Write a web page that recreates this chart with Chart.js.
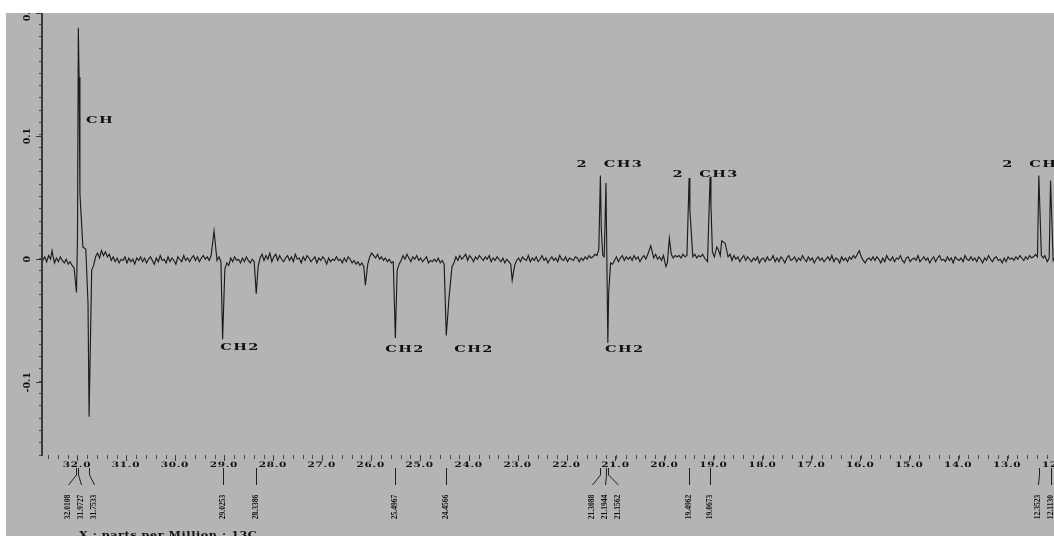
<!DOCTYPE html>
<html>
<head>
<meta charset="utf-8">
<script src="https://cdn.jsdelivr.net/npm/chart.js@4.4.1/dist/chart.umd.min.js"></script>
<style>
  html, body { margin: 0; padding: 0; background: #fff; overflow: hidden; width: 1054px; height: 536px; }
  #wrap { position: absolute; left: 6px; top: 13px; }
  canvas { background: #b4b4b4; display: block; }
</style>
</head>
<body>
<div id="wrap"><canvas id="nmr" width="1100" height="523"></canvas></div>
<script>
// baseline every 0.04 ppm from 32.70 downwards, in units of 0.001
// (one row = 1 ppm)
var baseStart = 32.70;
var baseStep = 0.04;
var baseNoise = [
  -1, 2, -2, 3, 0, 0, -3, 1, -2, 2, -1, -3, 0, -4, -2, -5, -7, 0, 0, 0, 6, 3, 8, 0, 0,
  0, -5, 2, 5, 1, 7, 3, 6, 2, 4, -1, 2, -2, 1, -3, 0, -1, 2, -3, 1, -2, 0, -4, 1, -1,
  2, -2, 1, -3, 0, 2, -1, -4, 1, -2, 3, -1, 0, -3, 2, -2, 1, -1, -4, 2, 0, -2, 3, -1, 1,
  -2, 1, 3, -1, 2, -2, 1, 3, 0, 2, -1, 3, 1, 0, -1, 2, -2, 0, -8, -3, -5, 1, -2, 2, -1,
  0, -3, 1, -2, 2, -1, -3, 0, -2, 0, -6, 1, 4, -1, 3, 0, 5, -2, 2, 4, -1, 3, 0, -2, 1,
  3, -1, 2, -2, 4, 0, 1, -3, 2, -1, 3, 1, -2, 0, 2, -3, 1, -1, 2, 0, -4, 1, -2, 0, -1,
  2, -1, 0, -3, 1, -2, 2, 0, -3, -1, -4, -2, -5, -3, -6, 0, -4, 2, 5, 3, 1, 4, 0, 2, -1,
  1, -2, 0, -3, -2, 0, -9, -4, -1, 3, 0, 4, 1, -2, 2, 0, 3, -1, 1, -2, 0, 2, -3, -1, -2,
  0, -2, 1, -3, -1, -4, 0, 0, 0, -6, -3, 2, -1, 3, 0, 2, 4, -1, 3, 1, -2, 2, 0, 3, 1,
  -1, 2, 0, 3, -2, 1, -1, 2, 0, -2, 1, -3, 0, -2, -4, 0, -5, -1, 1, -2, 2, 0, -1, 3, -2,
  1, -1, 2, -2, 0, 3, -1, 1, -3, 0, 2, -1, 1, -2, 3, 0, -1, 2, -2, 1, 0, -1, 2, 1, -2,
  1, -1, 2, 0, 3, 1, 2, 4, 3, 8, 0, 3, 0, 0, 0, 0, -4, -1, 2, -2, 1, 3, -1, 2, 0,
  2, -1, 3, 0, 2, -2, 1, 3, 0, 4, 0, 3, 1, 4, 0, 2, -1, 3, 0, -3, 0, 4, 1, 3, 2,
  3, 1, 4, 2, 3, 0, 0, 2, 4, 1, 3, 2, 4, 1, 3, 0, 0, 6, 2, 0, 8, 3, 0, 5, 0,
  2, 4, -1, 3, 0, 2, -2, 1, 3, -1, 2, 0, -2, 1, -1, 2, -3, 0, 1, -2, 2, -1, 0, 3, -2,
  1, -2, 2, 0, -3, 1, 3, -1, 0, 2, -2, 1, -1, 3, 0, -2, 2, -1, 1, -3, 0, 2, -1, 1, -2,
  0, 2, -1, 3, -2, 1, 0, -3, 2, -1, 1, -2, 2, 0, 3, 1, 4, 7, 2, -1, -3, 0, 1, -1, 2,
  -1, 2, 0, -3, 1, -2, 3, 0, -1, 2, -2, 1, 0, 3, -1, -3, 1, 2, -2, 0, 1, -1, 3, -2, 0,
  2, -1, 1, -3, 0, 2, -2, 1, 3, -1, 0, -2, 2, -1, 1, -3, 2, 0, -1, 1, -2, 3, 0, -1, 2,
  -1, 1, -2, 2, 0, -3, 1, -1, 3, 0, -2, 1, 2, -1, 0, -3, 1, -2, 2, 0, 1, -1, 2, 0, 3,
  1, -1, 2, 0, 3, 1, 2, 4, 2, 0, 3, 1, 0, -2, 1, 0, -1, 2, 0, -1, 1, 0, -2, 1, 0
];

// signals (ppm, intensity)
var peakPpm = [32.51, 32.0108, 31.99, 31.9727, 31.958, 31.94, 31.88, 31.775, 31.7533, 31.70,
  29.20, 29.0253, 28.3386, 26.11, 25.4967, 24.4566, 24.40, 23.11,
  21.3088, 21.29, 21.23, 21.1944, 21.1562, 21.14, 21.10,
  20.28, 19.97, 19.90, 19.4962, 19.48, 19.12, 19.0673, 19.05, 18.93, 18.83, 18.76,
  12.3523, 12.23, 12.1130];
var peakHeight = [0.007, -0.027, 0.017, 0.188, 0.148, 0.053, 0.010, -0.036, -0.128, -0.009,
  0.023, -0.065, -0.028, -0.021, -0.064, -0.062, -0.031, -0.017,
  0.068, 0.025, 0.002, 0.062, -0.068, -0.028, -0.003,
  0.011, -0.006, 0.017, 0.066, 0.040, -0.002, 0.067, 0.044, 0.010, 0.015, 0.013,
  0.068, 0.003, 0.064];

// peak picking labels under the axis
var labelPpm = [32.0108, 31.9727, 31.7533, 29.0253, 28.3386, 25.4967, 24.4566,
  21.3088, 21.1944, 21.1562, 19.4962, 19.0673, 12.3523, 12.1130];

var xTickValues = [32, 31, 30, 29, 28, 27, 26, 25, 24, 23, 22, 21, 20, 19, 18, 17, 16, 15, 14, 13, 12];
var xTickLabels = ["32.0", "31.0", "30.0", "29.0", "28.0", "27.0", "26.0", "25.0", "24.0", "23.0", "22.0",
  "21.0", "20.0", "19.0", "18.0", "17.0", "16.0", "15.0", "14.0", "13.0", "12.0"];
var yTickValues = [0.2, 0.1, 0, -0.1];
var yTickLabels = ["0.2", "0.1", "0", "-0.1"];

var assignText = ["CH", "CH2", "CH2", "CH2", "CH2", "2", "CH3", "2", "CH3", "2", "CH3"];
var xTitle = "X : parts per Million : 13C";

// where the assignment words sit (ppm, intensity)
var assignAt = [[31.53, 0.1125], [28.67, -0.072], [25.30, -0.073], [23.89, -0.073], [20.81, -0.073],
  [21.68, 0.077], [20.835, 0.077], [19.72, 0.069], [18.885, 0.069], [12.98, 0.077], [12.14, 0.077]];

var points = [];
for (var i = 0; i < baseNoise.length; i++) {
  var p = +(baseStart - i * baseStep).toFixed(2);
  var near = false;
  for (var j = 0; j < peakPpm.length; j++) {
    if (Math.abs(peakPpm[j] - p) < 0.025) { near = true; break; }
  }
  if (!near) points.push({x: p, y: baseNoise[i] / 1000});
}
for (var k = 0; k < peakPpm.length; k++) {
  points.push({x: peakPpm[k], y: peakHeight[k]});
}
points.sort(function(a, b) { return b.x - a.x; });

function drawText(ctx, txt, x, y, font, sx, rot, spacing) {
  ctx.save();
  ctx.translate(x, y);
  if (rot) ctx.rotate(rot);
  ctx.scale(sx, 1);
  ctx.font = font;
  ctx.letterSpacing = spacing || "0px";
  ctx.textAlign = "center";
  ctx.textBaseline = "middle";
  ctx.fillStyle = "#111";
  ctx.fillText(txt, 0, 0);
  ctx.restore();
}

// spread crowded labels apart, keeping each cluster centred
function spreadLabels(xs, gap) {
  var out = xs.slice();
  var i = 0;
  while (i < xs.length) {
    var j = i;
    while (j + 1 < xs.length && xs[j + 1] - xs[j] < gap) j++;
    var n = j - i + 1, mean = 0;
    for (var k = i; k <= j; k++) mean += xs[k];
    mean /= n;
    for (var k = i; k <= j; k++) out[k] = mean + (k - i - (n - 1) / 2) * gap;
    i = j + 1;
  }
  return out;
}

var overlay = {
  id: "overlay",
  afterDraw: function(chart) {
    var ctx = chart.ctx;
    var xs = chart.scales.x, ys = chart.scales.y;
    var area = chart.chartArea;
    var bottom = area.bottom;

    ctx.save();
    ctx.strokeStyle = "#3a3a3a";
    ctx.lineWidth = 1;
    // longer major ticks
    for (var i = 0; i < yTickValues.length; i++) {
      var y = Math.round(ys.getPixelForValue(yTickValues[i])) + 0.5;
      ctx.beginPath(); ctx.moveTo(area.left - 6, y); ctx.lineTo(area.left, y); ctx.stroke();
    }
    for (var i = 0; i < xTickValues.length; i++) {
      var x = Math.round(xs.getPixelForValue(xTickValues[i])) + 0.5;
      ctx.beginPath(); ctx.moveTo(x, bottom + 1); ctx.lineTo(x, bottom + 6); ctx.stroke();
    }
    ctx.restore();

    for (var i = 0; i < yTickValues.length; i++) {
      drawText(ctx, yTickLabels[i], 22, ys.getPixelForValue(yTickValues[i]),
        "bold 9px 'DejaVu Serif'", 1.05, -Math.PI / 2);
    }
    for (var i = 0; i < xTickValues.length; i++) {
      drawText(ctx, xTickLabels[i], xs.getPixelForValue(xTickValues[i]), bottom + 10,
        "bold 7.5px 'DejaVu Serif'", 1.4, 0, "0.5px");
    }

    // peak pick lines and values
    var px = labelPpm.map(function(v) { return xs.getPixelForValue(v); });
    var lx = spreadLabels(px, 13);
    ctx.save();
    ctx.strokeStyle = "#1e1e1e";
    ctx.lineWidth = 1;
    for (var i = 0; i < px.length; i++) {
      var a = Math.round(px[i]) + 0.5, b = Math.round(lx[i]) + 0.5;
      ctx.beginPath();
      ctx.moveTo(a, bottom + 13);
      ctx.lineTo(a, bottom + 20);
      ctx.lineTo(b, bottom + 30);
      ctx.stroke();
    }
    ctx.restore();
    for (var i = 0; i < px.length; i++) {
      drawText(ctx, labelPpm[i].toFixed(4), lx[i], bottom + 52,
        "bold 8px 'Liberation Serif'", 0.95, -Math.PI / 2);
    }

    for (var i = 0; i < assignText.length; i++) {
      drawText(ctx, assignText[i], xs.getPixelForValue(assignAt[i][0]), ys.getPixelForValue(assignAt[i][1]),
        "bold 10px 'DejaVu Serif'", 1.45, 0, "1px");
    }

    ctx.save();
    ctx.translate(73, 517);
    ctx.scale(1.12, 1);
    ctx.font = "bold 10px 'DejaVu Serif'";
    ctx.letterSpacing = "0.5px";
    ctx.textBaseline = "top";
    ctx.fillStyle = "#111";
    ctx.fillText(xTitle, 0, 0);
    ctx.restore();
  }
};

var ctx = document.getElementById("nmr").getContext("2d");
var spectrum = new Chart(ctx, {
  type: "line",
  data: {
    datasets: [{
      data: points,
      borderColor: "#1c1c1c",
      borderWidth: 1.15,
      pointRadius: 0,
      tension: 0,
      fill: false
    }]
  },
  options: {
    responsive: false,
    devicePixelRatio: 1,
    animation: false,
    layout: { padding: 0 },
    plugins: { legend: { display: false }, tooltip: { enabled: false } },
    scales: {
      x: {
        type: "linear",
        reverse: true,
        min: 10.98,
        max: 32.715,
        bounds: "data",
        border: { display: false },
        grid: { drawOnChartArea: false, drawTicks: true, tickLength: 4, color: "#4a4a4a" },
        ticks: { display: false, stepSize: 0.2, includeBounds: false },
        afterFit: function(scale) { scale.height = 81; }
      },
      y: {
        min: -0.159,
        max: 0.2,
        bounds: "data",
        border: { display: true, color: "#3a3a3a", width: 2 },
        grid: { drawOnChartArea: false, drawTicks: true, tickLength: 3, color: "#4a4a4a" },
        ticks: { display: false, stepSize: 0.01, includeBounds: false },
        afterFit: function(scale) { scale.width = 36; }
      }
    }
  },
  plugins: [overlay]
});
</script>
</body>
</html>
